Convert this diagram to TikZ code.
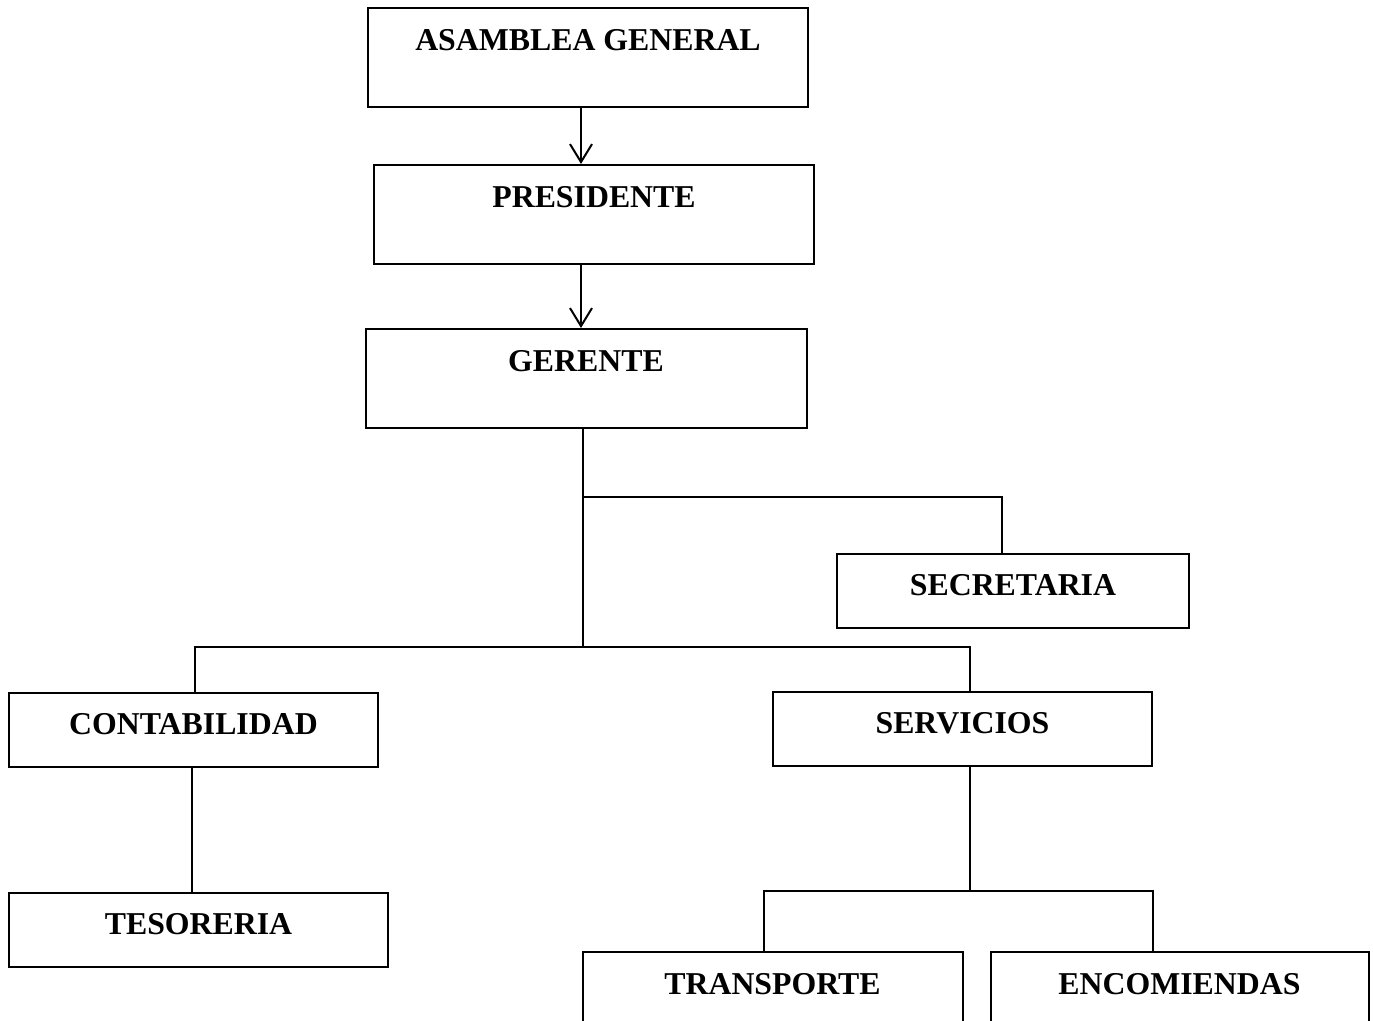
\documentclass[tikz,border=0pt]{standalone}
\usepackage{fontspec}
\setmainfont{Liberation Serif}
\usetikzlibrary{arrows.meta}

\tikzset{
  box/.style={draw, line width=1pt, inner sep=0pt, anchor=north, align=center,
    font=\fontsize{15.9}{19}\selectfont\bfseries},
  bigbox/.style={box, text height=21.5pt, text depth=28pt},
  smallbox/.style={box, text height=21pt, text depth=16pt},
  link/.style={line width=1pt},
  arr/.style={link, -{Straight Barb[length=9pt,width=11pt,line width=1pt]}}
}

\begin{document}
\begin{tikzpicture}[x=0.5pt, y=-0.5pt]
  \path[use as bounding box, clip] (0,0) rectangle (1373,1021);
  % top of the chart
  \node[bigbox, minimum width=220pt] (asamblea) at (588,7) {ASAMBLEA GENERAL};
  \node[bigbox, minimum width=220pt] (presidente) at (594,164) {PRESIDENTE};
  \node[bigbox, minimum width=220.5pt] (gerente) at (586,328) {GERENTE};
  % staff and departments
  \node[smallbox, minimum width=176pt] (secretaria) at (1013,553) {SECRETARIA};
  \node[smallbox, minimum width=184.5pt] (contabilidad) at (193.5,692) {CONTABILIDAD};
  \node[smallbox, minimum width=189.5pt] (servicios) at (962.5,691) {SERVICIOS};
  \node[smallbox, minimum width=189.5pt] (tesoreria) at (198.5,892) {TESORERIA};
  \node[smallbox, minimum width=190pt] (transporte) at (772.5,951) {TRANSPORTE};
  \node[smallbox, minimum width=189pt] (encomiendas) at (1179.5,951) {ENCOMIENDAS};

  % junction points
  \coordinate (axis) at (581,0);
  \coordinate (g1) at (583,497);
  \coordinate (g2) at (583,647);
  \coordinate (s1) at (1002,497);
  \coordinate (k1) at (195,647);
  \coordinate (k2) at (970,647);
  \coordinate (t1) at (192,0);
  \coordinate (v0) at (970,891);
  \coordinate (v1) at (764,891);
  \coordinate (v2) at (1153,891);

  % arrows down the line of command
  \draw[arr] (asamblea.south -| axis) -- (presidente.north -| axis);
  \draw[arr] (presidente.south -| axis) -- (gerente.north -| axis);
  % gerente branches
  \draw[link] (gerente.south -| g1) -- (g2);
  \draw[link] (g1) -- (s1) -- (secretaria.north -| s1);
  \draw[link] (contabilidad.north -| k1) -- (k1) -- (k2) -- (servicios.north -| k2);
  \draw[link] (contabilidad.south -| t1) -- (tesoreria.north -| t1);
  % servicios branches
  \draw[link] (servicios.south -| v0) -- (v0);
  \draw[link] (transporte.north -| v1) -- (v1) -- (v2) -- (encomiendas.north -| v2);
\end{tikzpicture}
\end{document}
